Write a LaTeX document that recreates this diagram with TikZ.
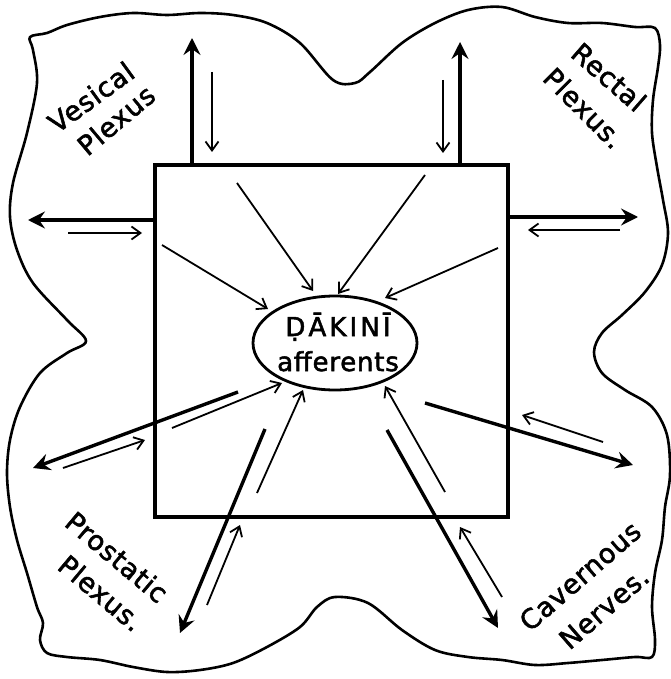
\documentclass[tikz,border=0pt]{standalone}
\usepackage{fontspec}
\setmainfont{DejaVu Sans}[FakeBold=2,LetterSpace=3]
\newfontfamily\widefont{DejaVu Sans}[FakeBold=2,LetterSpace=12]
\usetikzlibrary{arrows.meta,shapes.geometric}
\begin{document}
\begin{tikzpicture}[x=1pt,y=-1pt,
  outline/.style={line width=2.6pt,line join=round},
  boxline/.style={line width=3.8pt,line join=miter},
  bigarrow/.style={line width=3.4pt,-{Stealth[length=17pt,width=17pt,inset=6pt]}},
  smallarrow/.style={line width=1.8pt,-{Straight Barb[length=9pt,width=13pt]}},
  lab/.style={font=\fontsize{27}{32}\selectfont,inner sep=0pt}]
\fill[white] (0,0) rectangle (670,679);
\useasboundingbox (0,0) rectangle (670,679);

% wavy outer outline
\draw[outline] plot[smooth cycle,tension=0.55] coordinates {
 (30,37) (47,33) (67,25) (100,17) (133,13) (167,15) (200,13) (233,15) (267,23)
 (300,43) (333,80) (355,83) (370,72) (402,43) (435,23) (468,10) (502,7) (535,17)
 (568,23) (602,23) (635,27) (655,28) (660,45) (658,67) (653,100) (652,133)
 (657,167) (663,200) (668,233) (662,265) (645,292) (622,315) (602,333) (594,352)
 (602,373) (625,390) (652,407) (667,435) (670,475) (665,507) (662,540) (655,573)
 (652,607) (655,640) (652,657) (635,657) (602,660) (568,663) (535,665) (502,660)
 (468,657) (435,650) (402,630) (368,603) (335,597) (317,607) (300,627) (267,647)
 (233,663) (200,670) (167,672) (133,667) (100,660) (67,657) (47,653) (40,640)
 (43,623) (37,607) (27,573) (17,540) (10,507) (7,473) (10,440) (20,407) (40,373)
 (67,353) (86,341) (67,320) (33,283) (17,250) (10,217) (13,183) (27,133) (37,83)
 (33,50)};

% central square
\node[draw,boxline,minimum width=353pt,minimum height=352pt,inner sep=0pt] (sq) at (331.5,341) {};

% ellipse and its text
\node[draw,ellipse,line width=2.8pt,minimum width=164pt,minimum height=94pt,inner sep=0pt] (ell) at (335,343) {};
\node[lab,align=center,font=\fontsize{26}{35}\selectfont] (lbl) at (338,342) {{\widefont ḌĀKINĪ}\\afferents};

% corner labels
\node[lab,rotate=36] (ves) at (91,97) {Vesical};
\node[lab,rotate=40] (vplx) at (116,120) {Plexus};
\node[lab,rotate=-41] (rec) at (609,77) {Rectal};
\node[lab,rotate=-45] (rplx) at (584,108) {Plexus.};
\node[lab,rotate=-40] (pro) at (117,557) {Prostatic};
\node[lab,rotate=-40] (pplx) at (101,593) {Plexus.};
\node[lab,rotate=41] (cav) at (580,576) {Cavernous};
\node[lab,rotate=41] (ner) at (604,608) {Nerves.};

% endpoints
\coordinate (t1a) at (192,165); \coordinate (t1b) at (192,38);
\coordinate (t2a) at (460,163); \coordinate (t2b) at (460,42);
\coordinate (t3a) at (155,220); \coordinate (t3b) at (28,220);
\coordinate (t4a) at (508,217); \coordinate (t4b) at (638,217);
\coordinate (t5a) at (238,392); \coordinate (t5b) at (33,468);
\coordinate (t6a) at (265,429); \coordinate (t6b) at (180,633);
\coordinate (t7a) at (387,430); \coordinate (t7b) at (498,628);
\coordinate (t8a) at (425,403); \coordinate (t8b) at (633,465);

\coordinate (s1a) at (212,72);  \coordinate (s1b) at (212,152);
\coordinate (s2a) at (443,80);  \coordinate (s2b) at (443,153);
\coordinate (s3a) at (68,233);  \coordinate (s3b) at (142,233);
\coordinate (s4a) at (620,230); \coordinate (s4b) at (528,230);
\coordinate (s5a) at (63,468);  \coordinate (s5b) at (145,440);
\coordinate (s6a) at (207,605); \coordinate (s6b) at (240,525);
\coordinate (s7a) at (502,597); \coordinate (s7b) at (460,527);
\coordinate (s8a) at (603,442); \coordinate (s8b) at (522,415);

\coordinate (e1a) at (237,183); \coordinate (e1b) at (313,291);
\coordinate (e2a) at (162,245); \coordinate (e2b) at (268,309);
\coordinate (e3a) at (425,175); \coordinate (e3b) at (338,294);
\coordinate (e4a) at (498,248); \coordinate (e4b) at (385,298);
\coordinate (e5a) at (172,428); \coordinate (e5b) at (282,383);
\coordinate (e6a) at (257,493); \coordinate (e6b) at (303,390);
\coordinate (e7a) at (445,492); \coordinate (e7b) at (385,386);

% thick outward arrows
\foreach \n in {1,...,8} \draw[bigarrow] (t\n a) -- (t\n b);
% thin inward arrows outside the square
\foreach \n in {1,...,8} \draw[smallarrow] (s\n a) -- (s\n b);
% thin arrows to the ellipse
\foreach \n in {1,...,7} \draw[smallarrow] (e\n a) -- (e\n b);
\end{tikzpicture}
\end{document}
